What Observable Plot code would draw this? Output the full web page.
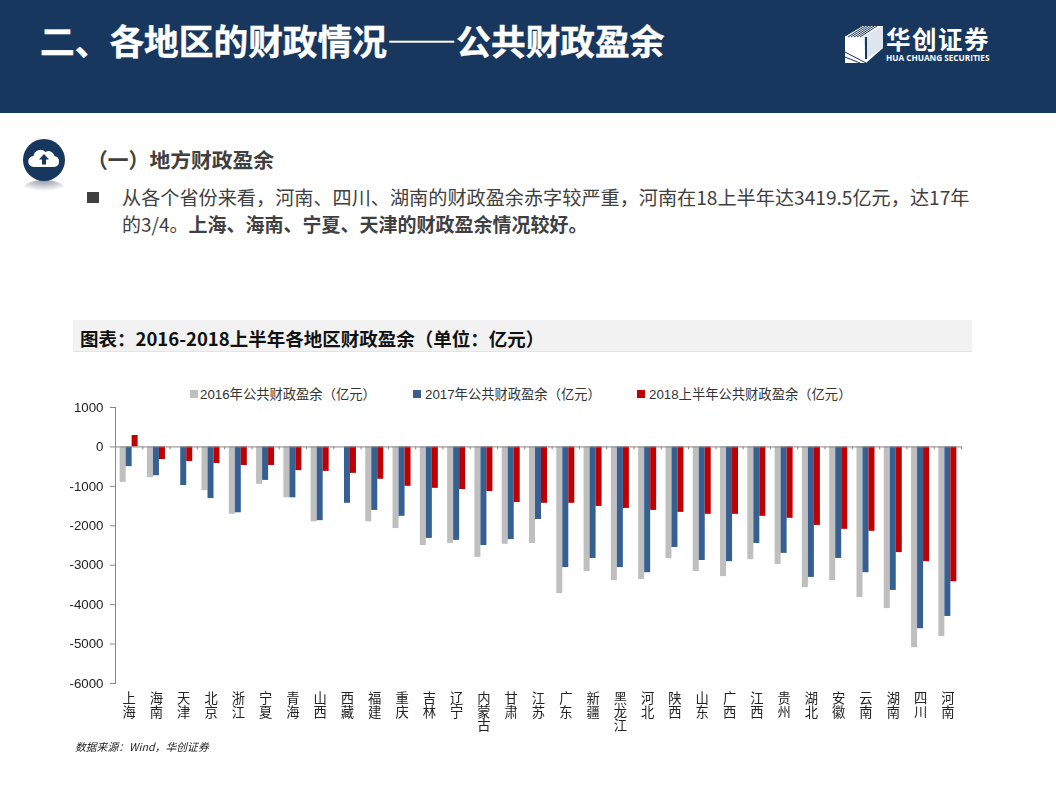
<!DOCTYPE html>
<html lang="zh"><head><meta charset="utf-8">
<script src="https://cdn.jsdelivr.net/npm/d3@7"></script>
<script src="https://cdn.jsdelivr.net/npm/@observablehq/plot@0.6"></script>
<style>
html,body{margin:0;padding:0;background:#fff;width:1056px;height:792px;overflow:hidden;font-family:"Noto Sans CJK SC",sans-serif}
.a{position:absolute;white-space:nowrap}
#chart{position:absolute;left:0;top:380px;will-change:transform}
#chart svg{display:block;background:transparent}
.sw{position:absolute;width:8px;height:8px;top:390px}
.lg{position:absolute;top:386px;font:13.3px/18px "Liberation Sans","Noto Sans CJK SC",sans-serif;color:#333;white-space:nowrap}
</style></head><body>
<div class="a" style="left:0;top:0;width:1056px;height:113px;background:#17375e"></div>
<div class="a" style="left:40px;top:14px;font-size:34.7px;line-height:52px;font-weight:700;color:#fff;-webkit-text-stroke:0.4px #fff">二、各地区的财政情况——公共财政盈余</div>
<svg class="a" style="left:840px;top:20px" width="50" height="48" viewBox="0 0 50 48">
<polygon points="5,16 22,6 43,6 43,28 26,43 5,43" fill="#fff"/>
<polygon points="23,16 43,6 43,28 26,39" fill="#dfe5ee"/>
<path d="M5,16 L22,6 M8,17 L25,6 M11,17 L28,6 M14,17 L31,6 M17,17 L34,6 M20,17 L37,6 M5,32 L26,43 M5,37 L20,43" stroke="#17375e" stroke-width="1"/>
<line x1="26" y1="17" x2="26" y2="39" stroke="#17375e" stroke-width="2"/>
</svg>
<div class="a" style="left:886px;top:28px;font-size:24.5px;letter-spacing:1.5px;line-height:22px;font-weight:700;color:#fff">华创证券</div>
<div class="a" style="left:886px;top:54px;font:700 8.2px/8px 'Open Sans',sans-serif;color:#fff">HUA CHUANG SECURITIES</div>

<svg class="a" style="left:20px;top:136px" width="50" height="60" viewBox="0 0 50 60">
<defs><radialGradient id="sh" cx="50%" cy="0%" r="70%"><stop offset="0" stop-color="#8a94a3"/><stop offset="1" stop-color="#fff"/></radialGradient></defs>
<ellipse cx="24" cy="52" rx="20" ry="8" fill="url(#sh)"/>
<circle cx="24" cy="24" r="21" fill="#17375e"/>
<path d="M14,31 a5.5,5.5 0 0 1 -0.5,-11 a7,7 0 0 1 12,-4 a6,6 0 0 1 9,4 a5.6,5.6 0 0 1 0,11 z" fill="#fff"/>
<path d="M24,18 l5,5.5 h-3 v5 h-4 v-5 h-3 z" fill="#17375e"/>
</svg>
<div class="a" style="left:87px;top:146px;font-size:20.8px;line-height:27px;font-weight:700;color:#404040">（一）地方财政盈余</div>
<div class="a" style="left:87px;top:192px;width:12px;height:11px;background:#404040"></div>
<div class="a" style="left:122px;top:184px;font-size:19.15px;line-height:26px;color:#404040">从各个省份来看，河南、四川、湖南的财政盈余赤字较严重，河南在18上半年达3419.5亿元，达17年</div>
<div class="a" style="left:122px;top:211px;font-size:19px;line-height:26px;color:#404040">的3/4。<b>上海、海南、宁夏、天津的财政盈余情况较好。</b></div>

<div class="a" style="left:73px;top:320px;width:899px;height:31px;background:#f2f2f2;border-bottom:1px solid #e4e4e4"></div>
<div class="a" style="left:80px;top:325px;font-size:18.5px;line-height:27px;font-weight:700;color:#111">图表：2016-2018上半年各地区财政盈余（单位：亿元）</div>

<div id="legend"></div>
<div id="chart"></div>
<div class="a" style="left:75px;top:739px;font-size:10.8px;line-height:15px;font-style:italic;color:#222">数据来源：Wind，华创证券</div>

<script>
const provinces = ["上海","海南","天津","北京","浙江","宁夏","青海","山西","西藏","福建","重庆","吉林","辽宁","内蒙古","甘肃","江苏","广东","新疆","黑龙江","河北","陕西","山东","广西","江西","贵州","湖北","安徽","云南","湖南","四川","河南"];
const v2016 = [-900,-780,null,-1110,-1710,-950,-1290,-1900,null,-1900,-2070,-2500,-2450,-2800,-2470,-2450,-3720,-3160,-3390,-3360,-2830,-3160,-3290,-2860,-2980,-3570,-3390,-3820,-4100,-5090,-4810];
const v2017 = [-500,-730,-980,-1310,-1670,-850,-1290,-1870,-1430,-1610,-1760,-2320,-2370,-2500,-2350,-1840,-3060,-2830,-3060,-3190,-2550,-2880,-2910,-2450,-2700,-3310,-2830,-3190,-3640,-4610,-4300];
const v2018 = [290,-320,-370,-420,-470,-470,-600,-620,-670,-820,-1000,-1050,-1080,-1130,-1410,-1430,-1430,-1510,-1560,-1610,-1660,-1710,-1710,-1760,-1810,-1990,-2090,-2140,-2680,-2910,-3419.5];
const seriesNames = ["2016年公共财政盈余（亿元）","2017年公共财政盈余（亿元）","2018上半年公共财政盈余（亿元）"];
const seriesColors = ["#bfbfbf","#376092","#c00000"];
const yTicks = [1000,0,-1000,-2000,-3000,-4000,-5000,-6000];

const step = (961 - 115) / provinces.length;
const barW = 6;
const inset = (step - barW) / 2;
const rows = s => provinces.map((name, i) => ({name, value: s[i]})).filter(d => d.value != null);
const bars = (s, c, dx) => Plot.barY(rows(s), {x: "name", y: "value", fill: c, dx, insetLeft: inset, insetRight: inset});

const chart = Plot.plot({
  width: 1056, height: 370,
  marginLeft: 115, marginRight: 95, marginTop: 27, marginBottom: 67,
  style: {fontFamily: '"Liberation Sans","Noto Sans CJK SC",sans-serif', background: "transparent"},
  x: {domain: provinces, padding: 0, round: false, label: null},
  y: {domain: [-6000, 1000], label: null},
  marks: [
    bars(v2016, seriesColors[0], -barW),
    bars(v2017, seriesColors[1], 0),
    bars(v2018, seriesColors[2], barW),
    Plot.ruleY([0], {stroke: "#888"}),
    Plot.ruleX(provinces, {x: d => d, y1: 0, y2: -75, stroke: "#888", dx: -step / 2}),
    Plot.ruleX(provinces.slice(-1), {x: d => d, y1: 0, y2: -75, stroke: "#888", dx: step / 2}),
    Plot.frame({anchor: "left", stroke: "#888"}),
    Plot.axisY({ticks: yTicks, tickFormat: d => String(d), label: null, tickSize: 5, tickPadding: 7, fontSize: 13.3, stroke: "#888", color: "#222", textStroke: "none"}),
    Plot.axisX({tickSize: 0, tickPadding: 10.5, label: null, fontSize: 13.3, lineHeight: 1.0, fill: "#222", lineAnchor: "top", tickFormat: d => [...d].join("\n")})
  ]
});
document.getElementById("chart").appendChild(chart);

const legend = document.getElementById("legend");
[[190,200],[413,425],[637,649]].forEach(([sx, tx], i) => {
  const sw = document.createElement("div");
  sw.className = "sw"; sw.style.left = sx + "px"; sw.style.background = seriesColors[i];
  const t = document.createElement("div");
  t.className = "lg"; t.style.left = tx + "px"; t.textContent = seriesNames[i];
  legend.append(sw, t);
});
</script>
</body></html>
